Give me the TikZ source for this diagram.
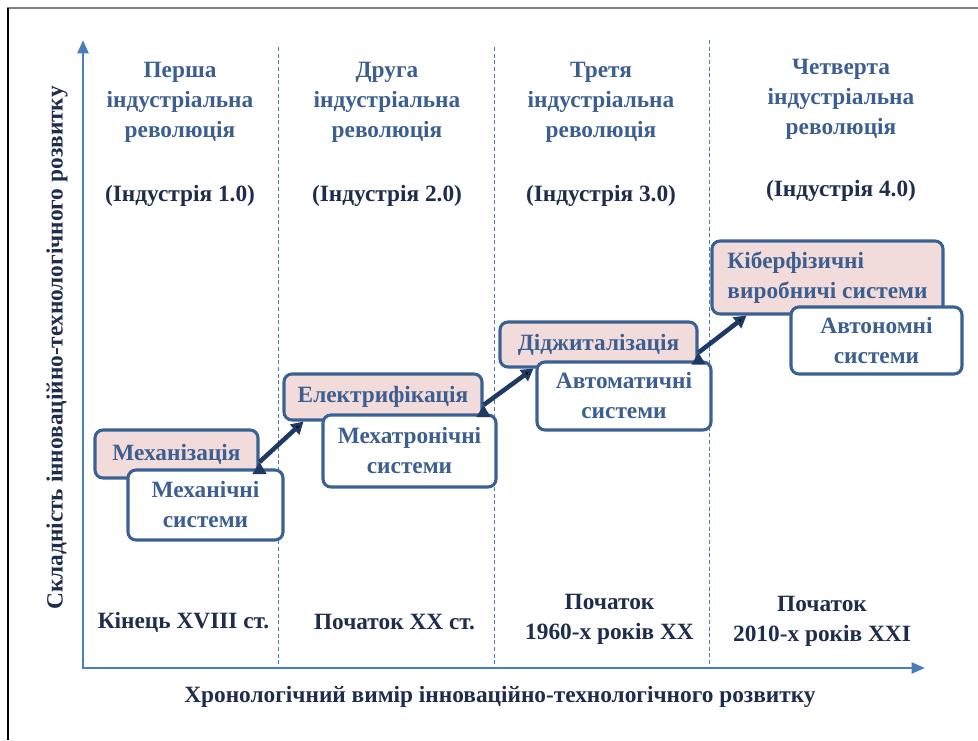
\documentclass[tikz,border=0pt]{standalone}
\usepackage{fontspec}
\setmainfont{Liberation Serif}
\usetikzlibrary{arrows.meta}
\definecolor{axisblue}{HTML}{4A7EBB}
\definecolor{headblue}{HTML}{3D5F8F}
\definecolor{darknavy}{HTML}{1F2D4D}
\definecolor{boxline}{HTML}{3B6192}
\definecolor{pinkfill}{HTML}{F2DCDB}
\definecolor{arrownavy}{HTML}{1F3A62}
\newdimen\px \px=0.75pt
\begin{document}
\begin{tikzpicture}[x=0.75pt,y=-0.75pt]
	\tikzstyle{txt}=[font=\fontsize{17.5}{22.5}\selectfont\bfseries,align=center,inner sep=0pt]
	\tikzstyle{headtxt}=[txt,text=headblue]
	\tikzstyle{basetxt}=[txt,text=darknavy]
	\tikzstyle{stagebox}=[txt,draw=boxline,line width=2.3pt,rounded corners=6pt,fill=pinkfill,text=headblue]
	\tikzstyle{sysbox}=[stagebox,fill=white]
	\tikzstyle{axis}=[draw=axisblue,line width=2.2pt,line join=miter,<->,>={Triangle[length=10pt,width=8pt]}]
	\tikzstyle{divider}=[draw=axisblue,line width=0.75pt,dash pattern=on 3pt off 2pt]
	\tikzstyle{jump}=[draw=arrownavy,line width=3.4pt,->,>={Triangle[length=9pt,width=10pt]}]
	\useasboundingbox (0,0) rectangle (978,740);
	% frame
	\draw[gray,line width=1.5pt] (7,8) -- (978,8);
	\draw[black,line width=1.2pt] (8,8) -- (8,740);
	% axes
	\coordinate (o) at (83,668);
	\coordinate (ytop) at (83,40);
	\coordinate (xend) at (925,668);
	\foreach \xx/\yy in {278/47,494/47,709/40}
		\draw[divider] (\xx,\yy) -- (\xx,668);
	\draw[axis] (ytop) -- (o) -- (xend);
	\node [basetxt,rotate=90] (ylab) at (57,348) {Складність інноваційно-технологічного розвитку};
	\node [basetxt] (xlab) at (500,697) {Хронологічний вимір інноваційно-технологічного розвитку};
	% headers
	\begin{scope}
		\node [headtxt] (h1) at (180,102) {Перша\\індустріальна\\революція};
		\node [headtxt] (h2) at (387,102) {Друга\\індустріальна\\революція};
		\node [headtxt] (h3) at (601,102) {Третя\\індустріальна\\революція};
		\node [headtxt] (h4) at (841,99) {Четверта\\індустріальна\\революція};
		\node [basetxt] (i1) at (180,196) {(Індустрія 1.0)};
		\node [basetxt] (i2) at (387,196) {(Індустрія 2.0)};
		\node [basetxt] (i3) at (601,196) {(Індустрія 3.0)};
		\node [basetxt] (i4) at (841,191) {(Індустрія 4.0)};
	\end{scope}
	% periods
	\begin{scope}
		\node [basetxt] (p1) at (183.5,622) {Кінець XVIII ст.};
		\node [basetxt] (p2) at (394.5,622) {Початок XX ст.};
		\node [basetxt] (p3) at (609.5,619) {Початок\\1960-х років XX};
		\node [basetxt] (p4) at (822,621) {Початок\\2010-х років XXI};
	\end{scope}
	% stages
	\begin{scope}
		\node [stagebox,minimum width=163\px,minimum height=48\px] (mech) at (176.5,454) {Механізація};
		\node [sysbox,minimum width=155\px,minimum height=70\px] (mechsys) at (205.5,505) {Механічні\\системи};
		\node [stagebox,minimum width=198\px,minimum height=46\px] (elec) at (383,397) {Електрифікація};
		\node [sysbox,minimum width=173\px,minimum height=72\px] (mtsys) at (409.5,451) {Мехатронічні\\системи};
		\node [stagebox,minimum width=197\px,minimum height=45\px] (digi) at (598.5,344.5) {Діджиталізація};
		\node [sysbox,minimum width=174\px,minimum height=68\px] (autsys) at (624,396) {Автоматичні\\системи};
		\node [stagebox,align=left,minimum width=231\px,minimum height=73\px] (cyber) at (827.5,277.5) {Кіберфізичні\\виробничі системи};
		\node [sysbox,minimum width=171\px,minimum height=67\px] (autonsys) at (876.5,340.5) {Автономні\\системи};
		\path[jump] ([yshift=-8\px]mech.east) edge ([xshift=21\px]elec.south west);
		\path[jump] ([yshift=-8\px]elec.east) edge ([xshift=35\px]digi.south west);
		\path[jump] ([yshift=-8\px]digi.east) edge ([xshift=36\px]cyber.south west);
	\end{scope}
\end{tikzpicture}
\end{document}
